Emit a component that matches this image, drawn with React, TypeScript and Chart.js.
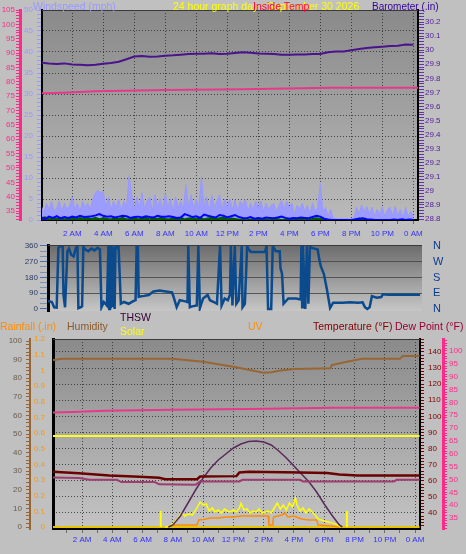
import React, { useEffect, useRef } from 'react';
import { Chart, registerables } from 'chart.js';

Chart.register(...registerables);

const FONT = '"Liberation Sans", Arial, sans-serif';
const GRID = 'rgba(35,35,35,0.75)';

// ---- time axis ----
const LABEL_HOURS = [2, 4, 6, 8, 10, 12, 14, 16, 18, 20, 22, 24];
const HOUR_LABELS = ['2 AM', '4 AM', '6 AM', '8 AM', '10 AM', '12 PM', '2 PM', '4 PM', '6 PM', '8 PM', '10 PM', '0 AM'];
const COMPASS_DEG = [0, 90, 180, 270, 360];
const COMPASS_LABELS = ['N', 'E', 'S', 'W', 'N'];

// ---- top panel: wind (mph), barometer (in), inside temp (F) ----
// gust, every 10 minutes
const WIND_GUST = [
  3.5, 1.5, 4.0, 2.5, 4.5, 2.0,
  3.0, 4.5, 2.0, 4.0, 2.5, 3.5,
  5.5, 2.5, 4.0, 2.0, 4.5, 3.0,
  4.0, 2.5, 5.0, 6.5, 7.0, 6.5,
  6.8, 3.0, 5.5, 2.5, 4.5, 3.0,
  5.0, 2.0, 4.5, 3.0, 10.5, 6.0,
  2.5, 5.5, 3.0, 6.5, 2.5, 4.5,
  5.5, 2.0, 6.0, 3.0, 5.0, 2.5,
  6.3, 3.0, 5.0, 2.0, 5.5, 3.0,
  4.5, 2.5, 8.4, 3.0, 6.0, 2.5,
  5.0, 3.0, 10.3, 3.0, 5.5, 2.0,
  6.0, 3.0, 4.5, 6.0, 2.5, 5.0,
  3.0, 5.0, 2.5, 4.8, 2.0, 4.5,
  3.5, 5.0, 2.0, 4.0, 2.5, 4.5,
  3.0, 4.5, 2.0, 4.0, 2.5, 3.5,
  4.0, 2.0, 3.5, 4.7, 2.5, 4.5,
  3.0, 4.0, 1.5, 3.5, 2.5, 4.0,
  2.0, 3.5, 1.5, 4.0, 2.0, 3.0,
  8.7, 2.0, 3.0, 1.0, 2.5, 0.5,
  0.3, 0.2, 0.3, 0.2, 0.3, 0.2,
  0.3, 0.5, 3.0, 1.5, 3.6, 2.0,
  3.2, 1.5, 3.0, 1.0, 2.5, 1.5,
  3.0, 0.8, 2.5, 3.0, 1.0, 3.2,
  1.0, 2.5, 0.5, 3.0, 0.8, 2.0,
  1.0,
];
// average wind, every 15 minutes
const WIND_AVG = [
  0.6, 0.2, 0.8, 0.5,
  0.9, 0.4, 0.7, 0.5,
  0.8, 0.6, 1.0, 0.7,
  0.8, 0.9, 1.1, 1.4,
  1.0, 0.8, 0.9, 0.6,
  0.8, 1.0, 0.9, 0.5,
  0.7, 0.8, 0.6, 0.9,
  0.7, 0.6, 1.0, 0.8,
  0.8, 0.9, 0.7, 0.5,
  0.6, 1.4, 1.1, 0.7,
  0.9, 0.5, 1.3, 1.0,
  0.8, 0.6, 1.2, 1.0,
  0.6, 0.9, 1.2, 0.7,
  0.5, 0.4, 0.7, 0.3,
  0.5, 0.3, 0.6, 0.5,
  0.4, 0.6, 0.8, 0.5,
  0.3, 0.5, 0.4, 0.6,
  0.5, 0.4, 0.7, 1.0,
  0.8, 0.3, 0.1, 0.0,
  0.0, 0.0, 0.0, 0.0,
  0.0, 0.1, 0.3, 0.4,
  0.2, 0.1, 0.0, 0.0,
  0.0, 0.0, 0.0, 0.1,
  0.0, 0.2, 0.0, 0.1,
  0.0,
];
// low wind, every 15 minutes
const WIND_LOW = [
  0.5, 0.7, 0.2, 0.5,
  0.3, 0.6, 0.2, 0.4,
  0.6, 0.2, 0.5, 0.3,
  0.5, 0.3, 0.6, 0.2,
  0.5, 0.3, 0.2, 0.5,
  0.3, 0.6, 0.2, 0.3,
  0.5, 0.2, 0.4, 0.6,
  0.2, 0.5, 0.3, 0.6,
  0.3, 0.2, 0.5, 0.3,
  0.6, 0.2, 0.4, 0.5,
  0.3, 0.6, 0.2, 0.4,
  0.6, 0.3, 0.5, 0.6,
  0.2, 0.4, 0.3, 0.1,
  0.1, 0.0, 0.2, 0.0,
  0.3, 0.1, 0.2, 0.0,
  0.1, 0.3, 0.0, 0.2,
  0.0, 0.3, 0.1, 0.4,
  0.2, 0.0, 0.3, 0.5,
  0.3, 0.0, 0.0, 0.0,
  0.0, 0.0, 0.0, 0.0,
  0.0, 0.2, 0.4, 0.1,
  0.0, 0.0, 0.0, 0.0,
  0.0, 0.0, 0.0, 0.0,
  0.0, 0.0, 0.0, 0.0,
  0.0,
];
// barometer, every 30 minutes
const BARO = [
  29.912, 29.905, 29.902, 29.906, 29.898, 29.896, 29.893, 29.897, 29.903, 29.908,
  29.918, 29.935, 29.955, 29.958, 29.953, 29.955, 29.960, 29.963, 29.968, 29.972,
  29.975, 29.975, 29.978, 29.972, 29.975, 29.980, 29.985, 29.982, 29.976, 29.975,
  29.972, 29.968, 29.968, 29.970, 29.970, 29.972, 29.972, 29.985, 29.990, 29.990,
  30.000, 30.008, 30.015, 30.020, 30.025, 30.030, 30.032, 30.040, 30.038,
];
const INDOOR_H = [0, 1.4, 3.5, 8, 13, 18.6, 24.3];
const INDOOR_V = [76.0, 76.2, 76.7, 77.1, 77.4, 77.9, 77.9];

// ---- middle panel: wind direction (deg) ----
const DIR_H = [0, 0.25, 0.4, 0.56, 0.67, 0.8, 0.95, 1.0, 1.1, 1.16, 1.25, 1.35, 1.5, 1.65, 1.8, 1.9, 1.96, 2.1, 2.2, 2.28,
  2.4, 2.6, 2.8, 3.0, 3.2, 3.35, 3.45, 3.6, 3.8, 3.9, 3.95, 4.0, 4.05, 4.1, 4.15, 4.2, 4.3, 4.35, 4.45, 4.55,
  4.7, 4.9, 5.2, 5.5, 5.65, 5.72, 5.8, 5.85, 6.2, 6.5, 6.8, 7.2, 7.6, 8.0, 8.1, 8.3, 8.5, 8.8, 9.0, 9.05,
  9.15, 9.3, 9.6, 9.7, 9.8, 10.0, 10.3, 10.45, 10.7, 10.9, 11.1, 11.2, 11.4, 11.6, 11.74, 11.8, 11.9, 12.05, 12.15, 12.3,
  12.5, 12.55, 12.7, 12.85, 12.95, 13.1, 14.0, 14.1, 14.2, 14.4, 14.5, 14.7, 14.95, 15.0, 15.1, 15.2, 15.5, 16.0, 16.3, 16.35,
  16.4, 16.45, 16.6, 16.7, 16.8, 16.9, 17.0, 17.2, 17.4, 17.5, 17.6, 17.8, 18.0, 18.1, 18.2, 18.4, 19.0, 19.5, 20.0, 20.3,
  20.45, 20.6, 20.75, 20.9, 21.2, 21.5, 21.6, 22.0, 24.0];
const DIR_V = [46, 40, 10, 8, 350, 360, 355, 80, 10, 10, 330, 345, 310, 300, 350, 355, 5, 10, 15, 355,
  340, 330, 345, 335, 350, 340, 10, 40, 20, 360, 0, 360, 5, 360, 10, 355, 0, 360, 350, 360,
  30, 40, 30, 45, 50, 360, 355, 70, 75, 80, 100, 105, 100, 95, 70, 10, 50, 45, 40, 360,
  10, 15, 20, 360, 5, 60, 80, 50, 40, 30, 360, 20, 60, 50, 80, 360, 20, 360, 30, 50,
  360, 10, 30, 360, 340, 326, 326, 360, 0, 0, 360, 330, 330, 234, 200, 30, 60, 60, 55, 360,
  10, 360, 0, 360, 30, 360, 350, 345, 340, 285, 245, 200, 110, 57, 6, 36, 36, 38, 36, 38,
  10, 0, 10, 74, 65, 68, 84, 81, 81];

// ---- bottom panel ----
const HUM_H = [0, 0.7, 5, 8, 9, 10, 11, 12, 13, 14, 14.5, 15, 16, 18.4, 18.5, 19.5, 20.5, 23, 23.2, 24.3];
const HUM_V = [89.7, 90.4, 90.4, 90.4, 89.7, 88.8, 87.5, 86.2, 84.6, 83, 83.2, 84, 85, 85.3, 87.1, 88.8, 90.4, 90.4, 91.9, 91.9];
const TEMP_H = [0, 1.8, 3.8, 5.8, 7.1, 7.5, 9.6, 9.8, 12.2, 12.4, 13, 16.4, 18.2, 19, 20.2, 24.3];
const TEMP_V = [65.6, 64.7, 63.3, 62.5, 61.9, 61.0, 61.0, 62.7, 62.9, 65.2, 65.6, 65.2, 64.8, 63.9, 63.3, 63.3];
const DEW_H = [0, 1.8, 2.5, 4.3, 4.6, 6.8, 7.1, 9.5, 9.8, 12.4, 12.6, 16.4, 16.6, 22.6, 22.8, 24.3];
const DEW_V = [62.0, 61.7, 60.6, 60.6, 59.2, 59.2, 57.8, 57.5, 59.6, 59.6, 60.6, 60.6, 59.6, 59.6, 60.6, 60.6];
const SOLAR_H = [7.5, 7.7, 8.0, 8.3, 8.6, 8.8, 9.0, 9.3, 9.6, 9.8,
  10.0, 10.2, 10.4, 10.6, 10.8, 11.0, 11.2, 11.4, 11.6, 11.8, 12.0, 12.2, 12.4,
  12.5,
  12.7, 12.9, 13.1, 13.3, 13.5, 13.7, 13.9, 14.1, 14.3, 14.5, 14.7, 14.9, 15.1, 15.3, 15.5, 15.7, 15.9, 16.1,
  16.2,
  16.4, 16.6, 16.8, 17.0, 17.2, 17.4, 17.6, 17.8, 18.0,
  18.3, 18.6, 18.9, 19.2];
const SOLAR_V = [0, 2, 15, 40, 70, 55, 65, 60, 95, 125,
  110, 115, 80, 95, 75, 85, 70, 90, 80, 75, 85, 75, 95,
  118,
  85, 90, 70, 80, 75, 90, 70, 75, 80, 70, 95, 120, 90, 110, 85, 120, 100, 145,
  110,
  80, 95, 70, 90, 75, 60, 40, 35, 30,
  25, 18, 8, 0];
const SOLARMAX_H = [7.7, 8, 8.5, 9, 9.5, 10, 10.5, 11, 11.5, 12, 12.5, 13, 13.5, 14, 14.5, 15, 15.5, 16, 16.5, 17, 17.5, 18, 18.5, 19, 19.2];
const SOLARMAX_V = [0, 10, 55, 120, 185, 245, 295, 335, 365, 395, 415, 427, 430, 425, 410, 380, 345, 305, 265, 225, 175, 115, 60, 10, 0];
const SOLAR_REF = 455;
const UV_H = [7.7, 8.0, 9.6, 9.7, 10.0, 10.5, 11.0, 11.5, 12.0, 12.5, 13.0, 14.3, 14.35, 14.6, 14.65, 15.2, 15.4, 15.6, 16.0, 16.5, 17.0, 17.5, 17.6, 18.5, 19.0];
const UV_V = [0, 0.2, 0.2, 0.7, 0.75, 0.9, 0.9, 1.0, 1.0, 1.1, 1.1, 1.1, 0.2, 0.2, 1.0, 1.2, 1.4, 1.0, 1.1, 0.8, 0.7, 0.7, 0.2, 0.1, 0];
const SUN_EVENTS = [7.2, 19.5];
const RAIN_H = [0, 24.3];
const RAIN_V = [0, 0];

// ---- helpers ----
function seq(a: number, b: number, step: number): number[] {
  const out: number[] = [];
  const n = Math.round((b - a) / step);
  for (let i = 0; i <= n; i++) out.push(Math.round((a + i * step) * 1000) / 1000);
  return out;
}
const isMult = (v: number, k: number) => Math.abs(v / k - Math.round(v / k)) < 1e-6;
const pairs = (h: number[], v: number[]) => h.map((x, i) => ({ x, y: v[i] }));
const regular = (v: number[], perHour: number) => v.map((y, i) => ({ x: i / perHour, y }));
const fixTicks = (vals: number[]) => (s: any) => { s.ticks = vals.map((value) => ({ value })); };
const f8 = { family: FONT, size: 8 };

function timeAxis(min: number, max: number, height: number, padding: number) {
  return {
    type: 'linear', position: 'bottom', min, max,
    afterBuildTicks: fixTicks(seq(1, 24, 1)),
    afterFit: (s: any) => { s.height = height; },
    ticks: {
      autoSkip: false, maxRotation: 0, minRotation: 0, padding, color: '#3030ff', font: f8,
      callback: (v: number) => { const i = LABEL_HOURS.indexOf(Math.round(v)); return i >= 0 ? HOUR_LABELS[i] : ''; },
    },
    grid: {
      color: (c: any) => (c.tick && LABEL_HOURS.includes(Math.round(c.tick.value)) ? GRID : 'transparent'),
      lineWidth: 1, tickLength: 4, tickColor: '#6a6a6a',
    },
    border: { display: true, color: '#000', width: 2, dash: [1, 2] },
  };
}

function panelPlugin(c0: string, c1: string) {
  return {
    id: 'panel',
    beforeDraw(chart: any) {
      const { ctx, chartArea: a } = chart;
      ctx.save();
      const g = ctx.createLinearGradient(0, a.top, 0, a.bottom);
      g.addColorStop(0, c0);
      g.addColorStop(1, c1);
      ctx.fillStyle = g;
      ctx.fillRect(a.left, a.top, a.right - a.left, a.bottom - a.top);
      ctx.restore();
    },
    afterDraw(chart: any) {
      const { ctx, chartArea: a } = chart;
      ctx.save();
      ctx.strokeStyle = '#3a3a3a';
      ctx.lineWidth = 1;
      ctx.beginPath();
      ctx.moveTo(a.left, a.top + 0.5);
      ctx.lineTo(a.right, a.top + 0.5);
      ctx.stroke();
      ctx.restore();
    },
  };
}

const line = (data: any[], color: string, width: number, yAxisID: string, extra: any = {}) => ({
  data, borderColor: color, backgroundColor: color, borderWidth: width, pointRadius: 0, tension: 0,
  yAxisID, xAxisID: 'x', fill: false, ...extra,
});

const baseOpts = (padding: any) => ({
  responsive: false, animation: false, devicePixelRatio: 1,
  layout: { padding },
  plugins: { legend: { display: false }, tooltip: { enabled: false } },
  font: { family: FONT },
});

function topConfig(): any {
  return {
    type: 'line',
    data: {
      datasets: [
        line(pairs(INDOOR_H, INDOOR_V), '#e8388a', 2, 'yPink'),
        line(regular(BARO, 2), '#4a148c', 2, 'yBaro'),
        line(regular(WIND_AVG, 4), '#0000ff', 2, 'yWind'),
        line(regular(WIND_LOW, 4), '#005a00', 1.5, 'yWind', { fill: 'origin', backgroundColor: '#005a00' }),
        line(regular(WIND_GUST, 6), '#9999ff', 1, 'yWind', { fill: 'origin', backgroundColor: '#9c9cff' }),
      ],
    },
    options: {
      ...baseOpts({ top: 10, left: 0, right: 0, bottom: 0 }),
      scales: {
        x: timeAxis(0.05, 24.3, 22, 5),
        yPink: {
          type: 'linear', position: 'left', weight: 2, min: 31.875, max: 105,
          afterFit: (s: any) => { s.width = 20; },
          afterBuildTicks: fixTicks(seq(32, 105, 1)),
          ticks: { autoSkip: false, padding: 1, color: '#ff2a8a', font: f8, callback: (v: number) => (isMult(v, 5) ? String(v) : '') },
          grid: { drawOnChartArea: false, tickLength: 4, tickColor: '#ff2a8a' },
          border: { display: true, color: '#ff2a8a', width: 3 },
        },
        yWind: {
          type: 'linear', position: 'left', weight: 1, min: 0, max: 50,
          afterFit: (s: any) => { s.width = 22; },
          afterBuildTicks: fixTicks(seq(0, 50, 1)),
          ticks: { autoSkip: false, padding: 4, color: '#9999ff', font: f8, callback: (v: number) => (isMult(v, 5) ? String(v) : '') },
          grid: {
            color: (c: any) => (c.tick && isMult(c.tick.value, 5) && c.tick.value > 0 && c.tick.value < 50 ? GRID : 'transparent'),
            tickLength: 5, tickColor: '#9999ff',
          },
          border: { display: true, color: '#000', width: 2, dash: [1, 2] },
        },
        yBaro: {
          type: 'linear', position: 'right', weight: 1, min: 28.7929, max: 30.2854,
          afterFit: (s: any) => { s.width = 48; },
          afterBuildTicks: fixTicks(seq(28.8, 30.28, 0.02)),
          ticks: {
            autoSkip: false, padding: 1, color: '#552299', font: f8,
            callback: (v: number) => { const t = Math.round(v * 100); return t % 10 === 0 ? String(t / 100) : ''; },
          },
          grid: { drawOnChartArea: false, tickLength: 6, tickColor: '#6633aa' },
          border: { display: true, color: '#000', width: 2 },
        },
      },
    },
    plugins: [panelPlugin('#8a8a8a', '#bababa')],
  };
}

function midConfig(): any {
  const yBase = { type: 'linear', min: -11.43, max: 365.71 };
  return {
    type: 'line',
    data: { datasets: [line(pairs(DIR_H, DIR_V), '#0b4a8c', 2.5, 'yDir')] },
    options: {
      ...baseOpts({ top: 9, left: 0, right: 0, bottom: 15 }),
      scales: {
        x: { type: 'linear', display: false, min: 0, max: 24.13 },
        yDir: {
          ...yBase, position: 'left',
          afterFit: (s: any) => { s.width = 48; },
          afterBuildTicks: fixTicks(seq(0, 360, 30)),
          ticks: { autoSkip: false, padding: 2, color: '#2a3d66', font: f8, callback: (v: number) => (isMult(v, 90) ? String(v) : '') },
          grid: {
            color: (c: any) => (c.tick && [90, 180, 270].includes(c.tick.value) ? 'rgba(70,70,70,0.85)' : 'transparent'),
            tickLength: 8, tickColor: (c: any) => (c.tick && isMult(c.tick.value, 90) ? '#4a6fb0' : 'rgba(74,111,176,0.6)'),
          },
          border: { display: true, color: '#000', width: 3 },
        },
        yCompass: {
          ...yBase, position: 'right',
          afterFit: (s: any) => { s.width = 44; },
          afterBuildTicks: fixTicks(COMPASS_DEG),
          ticks: {
            autoSkip: false, padding: 1, color: '#0a3c8c', font: { family: FONT, size: 11 },
            callback: (v: number) => { const i = COMPASS_DEG.indexOf(v); return i >= 0 ? COMPASS_LABELS[i] : ''; },
          },
          grid: { display: false, drawTicks: true, tickLength: 10, drawOnChartArea: false },
          border: { display: false },
        },
      },
    },
    plugins: [panelPlugin('#6c6c6c', '#c6c6c6')],
  };
}

function bottomConfig(): any {
  const sunData: any[] = [];
  SUN_EVENTS.forEach((h, i) => {
    if (i > 0) sunData.push({ x: (h + SUN_EVENTS[i - 1]) / 2, y: null });
    sunData.push({ x: h, y: 0 }, { x: h, y: 80 });
  });
  return {
    type: 'line',
    data: {
      datasets: [
        line(pairs(TEMP_H, TEMP_V), '#6b0000', 2.5, 'yTemp'),
        line(pairs(DEW_H, DEW_V), '#a03c70', 2, 'yTemp'),
        line(pairs(INDOOR_H, INDOOR_V), '#e8388a', 2, 'yDew'),
        line(pairs(HUM_H, HUM_V), '#996633', 2, 'yHum'),
        line(pairs(RAIN_H, [SOLAR_REF, SOLAR_REF]), '#ffff22', 2, 'ySolar'),
        line(pairs(SOLARMAX_H, SOLARMAX_V), '#5a2a5a', 1.5, 'ySolar'),
        line(pairs(SOLAR_H, SOLAR_V), '#ffff00', 1.5, 'ySolar'),
        line(pairs(UV_H, UV_V), '#ff8c00', 1.5, 'yUV'),
        line(sunData, '#ffff00', 2, 'ySolar', { spanGaps: false }),
        line(pairs(RAIN_H, RAIN_V), '#e6c200', 2, 'yRain'),
      ],
    },
    options: {
      ...baseOpts({ top: 27, left: 0, right: 0, bottom: 0 }),
      scales: {
        x: timeAxis(0.08, 24.33, 25, 2),
        yHum: {
          type: 'linear', position: 'left', weight: 2, min: -1.075, max: 101.08,
          afterFit: (s: any) => { s.width = 30; },
          afterBuildTicks: fixTicks(seq(0, 100, 2)),
          ticks: { autoSkip: false, padding: 4, color: '#6b5a48', font: f8, callback: (v: number) => (isMult(v, 10) ? String(v) : '') },
          grid: { drawOnChartArea: false, tickLength: 4, tickColor: '#996633' },
          border: { display: true, color: '#996633', width: 2 },
        },
        yRain: {
          type: 'linear', position: 'left', weight: 1, min: -0.0128, max: 1.2,
          afterFit: (s: any) => { s.width = 23; },
          afterBuildTicks: fixTicks(seq(0, 1.2, 0.1)),
          ticks: { autoSkip: false, padding: 8, color: '#ff9900', font: f8, callback: (v: number) => String(Math.round(v * 10) / 10) },
          grid: { drawOnChartArea: false, drawTicks: false },
          border: { display: true, color: '#000', width: 3 },
        },
        yTemp: {
          type: 'linear', position: 'right', weight: 1, min: 30.06, max: 148.07,
          afterFit: (s: any) => { s.width = 23; },
          afterBuildTicks: fixTicks(seq(32, 148, 2)),
          ticks: { autoSkip: false, padding: 4, color: '#800000', font: f8, callback: (v: number) => (isMult(v, 10) ? String(v) : '') },
          grid: {
            color: (c: any) => (c.tick && isMult(c.tick.value, 10) ? GRID : 'transparent'),
            tickLength: 4, tickColor: '#800000',
          },
          border: { display: true, color: '#000', width: 2, dash: [1, 2] },
        },
        yDew: {
          type: 'linear', position: 'right', weight: 2, min: 30.72, max: 104.65,
          afterFit: (s: any) => { s.width = 23; },
          afterBuildTicks: fixTicks(seq(31, 104, 1)),
          ticks: { autoSkip: false, padding: 2, color: '#ff2a8a', font: f8, callback: (v: number) => (isMult(v, 5) ? String(v) : '') },
          grid: { drawOnChartArea: false, tickLength: 4, tickColor: '#ff2a8a' },
          border: { display: true, color: '#ff2a8a', width: 3 },
        },
        ySolar: { type: 'linear', display: false, min: -10, max: 940 },
        yUV: { type: 'linear', display: false, min: -0.2, max: 18.8 },
      },
    },
    plugins: [panelPlugin('#8a8a8a', '#c4c4c4')],
  };
}

function ChartCanvas({ top, height, make }: { top: number; height: number; make: () => any }) {
  const ref = useRef<HTMLCanvasElement>(null);
  useEffect(() => {
    const chart = new Chart(ref.current as HTMLCanvasElement, make());
    return () => chart.destroy();
  }, []);
  return (
    <canvas ref={ref} width={466} height={height}
      style={{ position: 'absolute', left: 0, top, width: 466, height, display: 'block' }} />
  );
}

const txt = (left: number, top: number, color: string, s: string, size = 10.5) => (
  <div style={{ position: 'absolute', left, top, color, fontFamily: FONT, fontSize: size, lineHeight: '13px', whiteSpace: 'nowrap' }}>{s}</div>
);

export default function App() {
  return (
    <div style={{ position: 'fixed', left: 0, top: 0, width: 466, height: 554, background: '#c0c0c0', overflow: 'hidden' }}>
      <ChartCanvas top={0} height={242} make={topConfig} />
      <ChartCanvas top={236} height={90} make={midConfig} />
      <ChartCanvas top={312} height={242} make={bottomConfig} />
      {txt(33, 0, '#9999ff', 'Windspeed (mph)')}
      {txt(173, 0, '#ffff00', '24 hour graph day : September 30 2026')}
      {txt(253, 0, '#ff0040', 'Inside Temp')}
      {txt(372, 0, '#330099', 'Barometer (.in)', 10)}
      {txt(0, 320, '#ff8c00', 'Rainfall (.in)')}
      {txt(67, 320, '#8b5a2b', 'Humidity')}
      {txt(120, 311, '#330033', 'THSW')}
      {txt(120, 325, '#ffff00', 'Solar')}
      {txt(248, 320, '#ff8c00', 'UV')}
      {txt(313, 320, '#800000', 'Temperature (°F)')}
      {txt(395, 320, '#990033', 'Dew Point (°F)')}
    </div>
  );
}
